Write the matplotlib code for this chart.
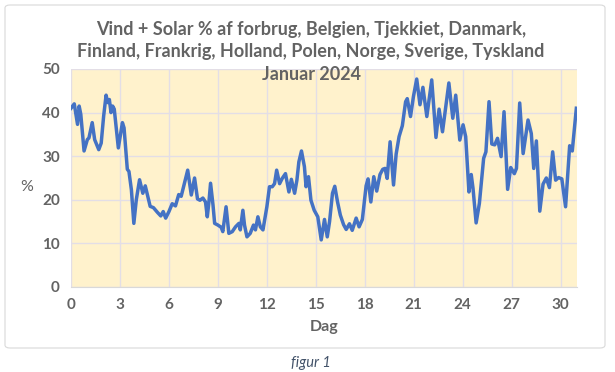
import matplotlib
matplotlib.use("Agg")
import matplotlib.pyplot as plt
from matplotlib.patches import FancyBboxPatch

plt.rcParams["font.family"] = ["Lato", "DejaVu Sans"]

# dag (fractional day of January) and wind+solar share of consumption
dag = [
    0.0, 0.2, 0.4, 0.5, 0.6, 0.8, 1.0, 1.1, 1.3, 1.45, 1.7, 1.85, 2.0, 2.15, 2.25,
    2.35, 2.45, 2.55, 2.65, 2.9, 3.0, 3.15, 3.25, 3.45, 3.55, 3.7, 3.85, 4.0, 4.2,
    4.4, 4.55, 4.7, 4.85, 5.05, 5.3, 5.5, 5.65, 5.8, 6.0, 6.2, 6.4, 6.6, 6.75, 6.95,
    7.15, 7.37, 7.57, 7.75, 7.9, 8.08, 8.24, 8.35, 8.45, 8.55, 8.7, 8.8, 9.0, 9.2,
    9.3, 9.5, 9.67, 9.88, 10.08, 10.29, 10.37, 10.53, 10.63, 10.78, 10.98, 11.18,
    11.3, 11.45, 11.6, 11.76, 12.0, 12.16, 12.33, 12.47, 12.6, 12.78, 12.94, 13.14,
    13.35, 13.5, 13.7, 13.84, 13.96, 14.12, 14.3, 14.4, 14.55, 14.7, 14.9, 15.12,
    15.33, 15.53, 15.7, 15.84, 16.02, 16.16, 16.33, 16.5, 16.7, 16.86, 17.06, 17.23,
    17.47, 17.65, 17.85, 18.08, 18.2, 18.37, 18.55, 18.73, 18.93, 19.1, 19.24, 19.37,
    19.55, 19.76, 19.92, 20.1, 20.3, 20.5, 20.6, 20.8, 20.98, 21.18, 21.38, 21.56,
    21.8, 22.1, 22.36, 22.55, 22.76, 23.15, 23.39, 23.57, 23.82, 24.02, 24.18, 24.38,
    24.52, 24.63, 24.82, 25.02, 25.28, 25.42, 25.61, 25.78, 25.96, 26.13, 26.35,
    26.53, 26.75, 26.94, 27.16, 27.29, 27.49, 27.7, 28.0, 28.2, 28.35, 28.51, 28.72,
    28.92, 29.12, 29.31, 29.51, 29.69, 29.87, 30.07, 30.3, 30.55, 30.71, 30.96,
]
pct = [
    41.0, 42.0, 37.3, 41.5, 39.6, 31.2, 33.8, 34.2, 37.7, 33.8, 31.5, 33.0, 39.2, 44.0, 42.3,
    43.0, 40.0, 41.5, 40.8, 31.9, 34.2, 37.7, 36.5, 27.0, 26.5, 22.3, 14.6, 20.0, 24.6,
    21.5, 23.2, 20.8, 18.5, 18.2, 17.1, 16.3, 17.3, 15.8, 17.3, 19.1, 18.6, 21.2, 20.8, 23.8,
    26.8, 21.1, 25.0, 20.2, 19.9, 20.4, 19.5, 16.1, 19.5, 23.8, 18.8, 14.6, 14.2, 13.7,
    12.7, 18.4, 12.3, 12.7, 13.8, 14.6, 13.1, 17.6, 14.2, 11.5, 12.3, 14.2,
    13.1, 16.1, 13.8, 13.1, 18.4, 23.0, 23.0, 23.7, 26.8, 23.7, 24.9, 26.0,
    21.8, 24.7, 21.5, 24.5, 28.7, 31.2, 27.6, 23.0, 25.3, 19.9, 17.6, 16.1,
    10.8, 15.5, 11.5, 15.0, 21.5, 23.1, 19.5, 16.5, 14.3, 13.2, 14.5, 13.0,
    15.8, 13.8, 15.5, 23.2, 24.8, 19.5, 25.3, 22.0, 25.8, 27.0, 27.2, 24.9,
    33.3, 23.4, 30.5, 34.5, 37.0, 42.5, 43.2, 39.1, 43.7, 47.7, 41.8, 45.8,
    39.1, 47.5, 34.3, 40.8, 35.6, 46.8, 38.7, 44.0, 33.7, 37.2, 34.5, 21.8,
    25.8, 22.6, 14.7, 19.2, 29.5, 31.0, 42.5, 32.8, 32.6, 34.1, 29.9,
    40.2, 22.4, 27.4, 26.0, 27.2, 42.2, 30.6, 38.3, 35.2, 27.2, 33.5, 17.4,
    23.6, 25.0, 22.8, 31.0, 24.5, 25.1, 24.8, 18.4, 32.4, 31.2, 41.0,
]

x_ticks = list(range(0, 31, 3))
y_ticks = list(range(0, 51, 10))
title_lines = [
    "Vind + Solar % af forbrug, Belgien, Tjekkiet, Danmark,",
    "Finland, Frankrig, Holland, Polen, Norge, Sverige, Tyskland",
    "Januar 2024",
]

GRAY = "#636363"
BLUE = "#4472C4"

fig = plt.figure(figsize=(6.15, 3.72), dpi=100)
fig.patch.set_facecolor("white")

# chart frame like the Excel chart area
frame = FancyBboxPatch((5 / 615, 1 - 348 / 372), 600 / 615, 343 / 372,
                       boxstyle="round,pad=0,rounding_size=0.008",
                       transform=fig.transFigure, facecolor="white",
                       edgecolor="#D9D9D9", lw=0.8, zorder=-5)
fig.patches.append(frame)

ax = fig.add_axes([71 / 615, 1 - 287 / 372, 506 / 615, 218 / 372])
ax.set_zorder(1)
ax.set_facecolor("#FFF2CC")
ax.plot(dag, pct, color=BLUE, lw=2.5, solid_joinstyle="round", zorder=3)

ax.set_xlim(0, 31)
ax.set_ylim(0, 50)
ax.set_xticks(x_ticks)
ax.set_yticks(y_ticks)
ax.grid(True, color="#E3DEE6", lw=1.0, zorder=1)
ax.set_axisbelow(True)
for side in ["top", "right", "left"]:
    ax.spines[side].set_visible(False)
ax.spines["bottom"].set_color("#D9D9D9")
ax.tick_params(length=0, labelsize=11, labelcolor=GRAY, pad=8)
for lab in ax.get_xticklabels() + ax.get_yticklabels():
    lab.set_fontweight("bold")

ax.set_xlabel("Dag", fontsize=11.5, color=GRAY, fontweight="bold", labelpad=6)
fig.text(27 / 615, 1 - 187 / 372, "%", fontsize=11.5, color=GRAY,
         ha="center", va="center")

for line, ypix in zip(title_lines, [30, 52, 75]):
    fig.text(311 / 615, 1 - ypix / 372, line, fontsize=13, color=GRAY,
             fontweight="bold", ha="center", va="center", zorder=5)

fig.text(311 / 615, 1 - 363 / 372, "figur 1", fontsize=10.5, color="#44546A",
         style="italic", ha="center", va="center")

fig.savefig("out.png", dpi=100)
